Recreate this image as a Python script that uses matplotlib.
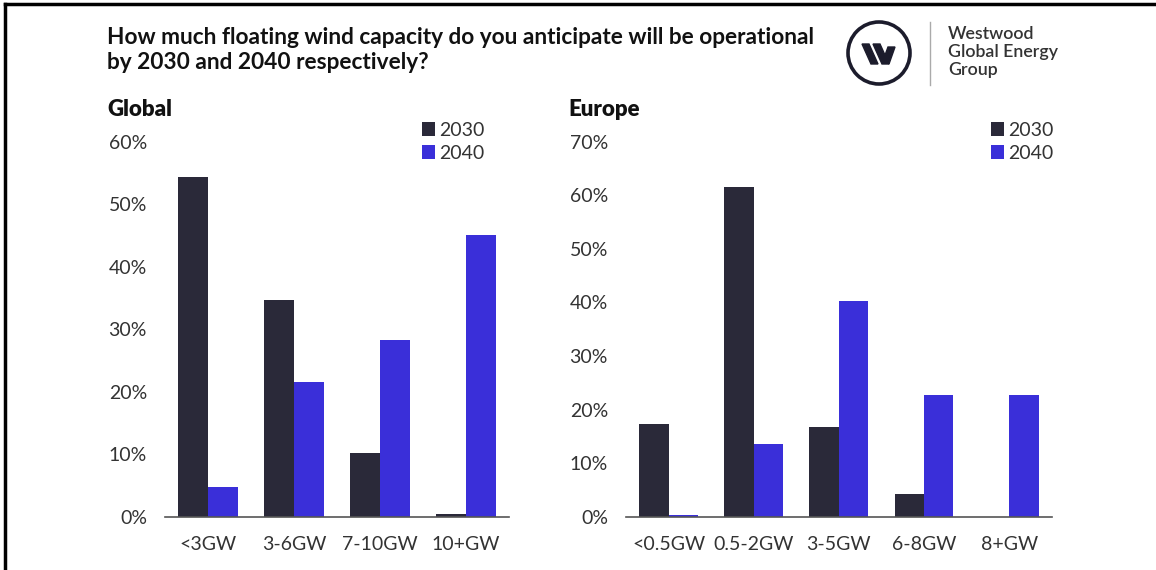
import numpy as np
import matplotlib.pyplot as plt
from matplotlib.patches import Circle, Polygon

plt.rcParams['font.family'] = ['Lato', 'DejaVu Sans']

# Data (percent of respondents)
global_cats = ['<3GW', '3-6GW', '7-10GW', '10+GW']
global_2030 = [54.3, 34.7, 10.2, 0.4]
global_2040 = [4.8, 21.6, 28.3, 45.0]

europe_cats = ['<0.5GW', '0.5-2GW', '3-5GW', '6-8GW', '8+GW']
europe_2030 = [17.3, 61.5, 16.8, 4.2, 0.0]
europe_2040 = [0.4, 13.5, 40.3, 22.8, 22.8]

years = ['2030', '2040']
c_dark = '#2a2939'
c_blue = '#3a2fd9'
txt = '#333333'

fig = plt.figure(figsize=(11.56, 5.70), dpi=100)


def panel(rect, cats, v30, v40, ymax, title, leg_x):
    ax = fig.add_axes(rect)
    x = np.arange(len(cats))
    w = 0.345
    ax.bar(x - w / 2, v30, w, color=c_dark, label=years[0])
    ax.bar(x + w / 2, v40, w, color=c_blue, label=years[1])
    ax.set_xlim(-0.5, len(cats) - 0.5)
    ax.set_ylim(0, ymax)
    ticks = np.arange(0, ymax + 1, 10)
    ax.set_yticks(ticks)
    ax.set_yticklabels([f'{int(t)}%' for t in ticks])
    ax.set_xticks(x)
    ax.set_xticklabels(cats)
    for s in ['top', 'right', 'left']:
        ax.spines[s].set_visible(False)
    ax.spines['bottom'].set_color('#555555')
    ax.spines['bottom'].set_linewidth(1.2)
    ax.tick_params(axis='y', length=0, pad=13, labelsize=14, labelcolor=txt)
    ax.tick_params(axis='x', length=0, pad=14, labelsize=14, labelcolor=txt)
    ax.legend(loc='upper left', bbox_to_anchor=(leg_x, 1 - 112 / 570),
              bbox_transform=fig.transFigure, frameon=False, fontsize=14,
              handlelength=0.7, handleheight=0.7, handletextpad=0.2,
              labelspacing=0.3, borderpad=0, labelcolor=txt)
    fig.text(rect[0] - 58 / 1156, 1 - 110 / 570, title, fontsize=16,
             fontweight='heavy', color='#111111', va='center', ha='left')
    return ax


panel([165 / 1156, 1 - 516.7 / 570, 344 / 1156, 375 / 570],
      global_cats, global_2030, global_2040, 60, 'Global', 412 / 1156)
panel([626 / 1156, 1 - 516.7 / 570, 425.7 / 1156, 375 / 570],
      europe_cats, europe_2030, europe_2040, 70, 'Europe', 981 / 1156)

# main title
fig.text(107 / 1156, 1 - 50 / 570,
         'How much floating wind capacity do you anticipate will be operational\n'
         'by 2030 and 2040 respectively?',
         fontsize=16.3, fontweight='bold', color='#111111', va='center',
         ha='left', linespacing=1.2)

# logo
lax = fig.add_axes([0, 0, 1, 1], zorder=-1)
lax.set_xlim(0, 1156)
lax.set_ylim(570, 0)
lax.axis('off')
lax.add_patch(Circle((879, 53), 31, fill=False, ec='#1c1c2c', lw=2.6))
for dx in [0, 11]:
    lax.add_patch(Polygon([(862 + dx, 44), (869 + dx, 44), (878 + dx, 64), (871 + dx, 64)],
                          closed=True, color='#1c1c2c'))
lax.add_patch(Polygon([(888, 47), (895, 47), (889, 64), (884, 58)], closed=True, color='#1c1c2c'))
lax.plot([930, 930], [22, 85], color='#aaaaaa', lw=1)
fig.text(948 / 1156, 1 - 52 / 570, 'Westwood\nGlobal Energy\nGroup', fontsize=12.8,
         fontweight='semibold', color=txt, va='center', ha='left', linespacing=1.12)

# border (top and left)
lax.plot([5, 1156], [4, 4], color='black', lw=2.5)
lax.plot([5, 5], [4, 570], color='black', lw=2.5)

fig.savefig('out.png', dpi=100, facecolor='white')
